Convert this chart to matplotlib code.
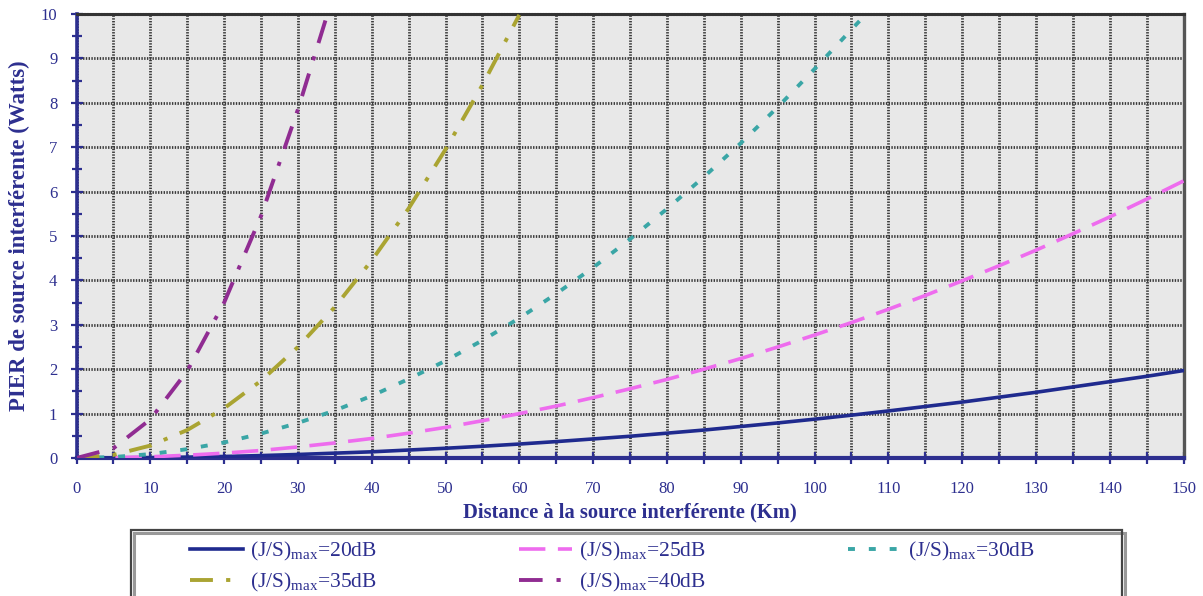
import matplotlib
matplotlib.use("Agg")
import matplotlib.pyplot as plt
from matplotlib.patches import Rectangle
from matplotlib.ticker import MultipleLocator

# PIER (W) versus distance to the interfering source (km), one series per (J/S)max
dist_full = [0, 5, 10, 15, 20, 25, 30, 35, 40, 45, 50, 55, 60, 65, 70, 75,
             80, 85, 90, 95, 100, 105, 110, 115, 120, 125, 130, 135, 140, 145, 150]
pier_20db = [0, 0.002, 0.009, 0.02, 0.035, 0.055, 0.08, 0.11, 0.14, 0.18, 0.22,
             0.265, 0.315, 0.37, 0.43, 0.49, 0.56, 0.63, 0.71, 0.79, 0.875,
             0.965, 1.06, 1.16, 1.26, 1.37, 1.48, 1.6, 1.72, 1.84, 1.97]
pier_25db = [0, 0.007, 0.028, 0.063, 0.11, 0.17, 0.25, 0.34, 0.44, 0.56, 0.69,
             0.84, 1.0, 1.17, 1.36, 1.56, 1.77, 2.0, 2.24, 2.5, 2.77, 3.05,
             3.35, 3.66, 3.99, 4.33, 4.68, 5.05, 5.43, 5.83, 6.24]

dist_30db = [0, 5, 10, 15, 20, 25, 30, 35, 40, 45, 50, 55, 60, 65, 70, 75,
             80, 85, 90, 95, 100, 105, 107]
pier_30db = [0, 0.022, 0.088, 0.2, 0.35, 0.55, 0.79, 1.07, 1.4, 1.78, 2.19,
             2.65, 3.15, 3.7, 4.29, 4.93, 5.61, 6.33, 7.09, 7.9, 8.76, 9.65, 10.0]

dist_35db = [0, 5, 10, 15, 20, 25, 30, 35, 40, 45, 50, 55, 60]
pier_35db = [0, 0.07, 0.28, 0.63, 1.12, 1.74, 2.5, 3.4, 4.45, 5.62, 6.95, 8.4, 9.98]

dist_40db = [0, 5, 10, 15, 20, 25, 30, 34]
pier_40db = [0, 0.22, 0.87, 1.96, 3.5, 5.45, 7.85, 10.0]

labels = ["(J/S)$_{\\rm max}$=20dB", "(J/S)$_{\\rm max}$=25dB",
          "(J/S)$_{\\rm max}$=30dB", "(J/S)$_{\\rm max}$=35dB",
          "(J/S)$_{\\rm max}$=40dB"]

NAVY = "#2d2f8f"

plt.rcParams["font.family"] = ["Liberation Serif", "DejaVu Serif"]
plt.rcParams["mathtext.fontset"] = "custom"
plt.rcParams["mathtext.rm"] = "Liberation Serif"
plt.rcParams["mathtext.it"] = "Liberation Serif:italic"
plt.rcParams["mathtext.bf"] = "Liberation Serif:bold"
plt.rcParams["lines.scale_dashes"] = False

fig = plt.figure(figsize=(12.03, 5.96), dpi=100)
ax = fig.add_axes([0.0636, 0.2315, 0.9202, 0.745])
ax.set_facecolor("#e8e8e8")

styles = [
    (dist_full, pier_20db, "#1f2a8e", "-", 2.6),
    (dist_full, pier_25db, "#ee6cee", (0, (19, 9)), 2.6),
    (dist_30db, pier_30db, "#3aa6a6", (0, (5, 10)), 2.8),
    (dist_35db, pier_35db, "#aaa432", (0, (16.5, 9.5, 3, 9.5)), 2.8),
    (dist_40db, pier_40db, "#902c92", (0, (17, 10, 3, 10)), 2.8),
]
lines = []
for (d, p, color, ls, lw), lab in zip(styles, labels):
    ln, = ax.plot(d, p, color=color, linestyle=ls, linewidth=lw, label=lab,
                  zorder=3)
    lines.append(ln)

ax.set_xlim(0, 150)
ax.set_ylim(0, 10)
ax.xaxis.set_major_locator(MultipleLocator(10))
ax.xaxis.set_minor_locator(MultipleLocator(5))
ax.yaxis.set_major_locator(MultipleLocator(1))
ax.yaxis.set_minor_locator(MultipleLocator(0.5))

ax.grid(True, which="major", axis="both", color="#3a3a3a",
        linestyle=(0, (1, 1)), linewidth=2.0, zorder=1)
ax.grid(True, which="minor", axis="x", color="#3a3a3a",
        linestyle=(0, (1, 1)), linewidth=2.0, zorder=1)
ax.set_axisbelow(True)

for side in ("left", "bottom"):
    ax.spines[side].set_color(NAVY)
ax.spines["left"].set_linewidth(2.6)
ax.spines["bottom"].set_linewidth(3.0)
ax.spines["right"].set_color("#555555")
ax.spines["right"].set_linewidth(2.4)
ax.spines["top"].set_color("#333333")
ax.spines["top"].set_linestyle((0, (1, 1)))
ax.spines["top"].set_linewidth(2.2)

ax.tick_params(axis="y", which="major", direction="inout", length=8.6,
               width=1.6, color=NAVY, labelcolor=NAVY, labelsize=12, pad=9.5)
ax.tick_params(axis="y", which="minor", direction="inout", length=6.5,
               width=1.6, color=NAVY)
ax.tick_params(axis="x", which="both", direction="inout", length=8.3,
               width=1.6, color=NAVY, labelcolor=NAVY, labelsize=12, pad=12.5)

ax.set_xlabel("Distance à la source interférente (Km)", fontsize=14.8,
              fontweight="bold", color=NAVY, labelpad=4)
ax.set_ylabel("PIER de source interférente (Watts)", fontsize=16.5,
              fontweight="bold", color=NAVY, labelpad=8)

# legend box below the plot, rows: 20/25/30 then 35/40
order = [0, 3, 1, 4, 2]
fig.legend([lines[i] for i in order], [labels[i] for i in order],
           loc="upper left", bbox_to_anchor=(179 / 1203, 1 - 529 / 596),
           ncol=3, frameon=False, fontsize=15.5, labelcolor=NAVY,
           borderpad=0, handlelength=2.45, handletextpad=0.33,
           columnspacing=6.62, labelspacing=0.36)

frame_l, frame_t, frame_r = 131 / 1203, 1 - 530 / 596, 1122 / 1203
fig.patches.append(Rectangle((frame_l + 3 / 1203, -0.1), frame_r - frame_l,
                             frame_t - 3 / 596 + 0.1, transform=fig.transFigure,
                             facecolor="none", edgecolor="#999999",
                             linewidth=2.2))
fig.patches.append(Rectangle((frame_l, -0.1), frame_r - frame_l, frame_t + 0.1,
                             transform=fig.transFigure, facecolor="none",
                             edgecolor="#444444", linewidth=1.6))

fig.savefig("out.png", dpi=100)
